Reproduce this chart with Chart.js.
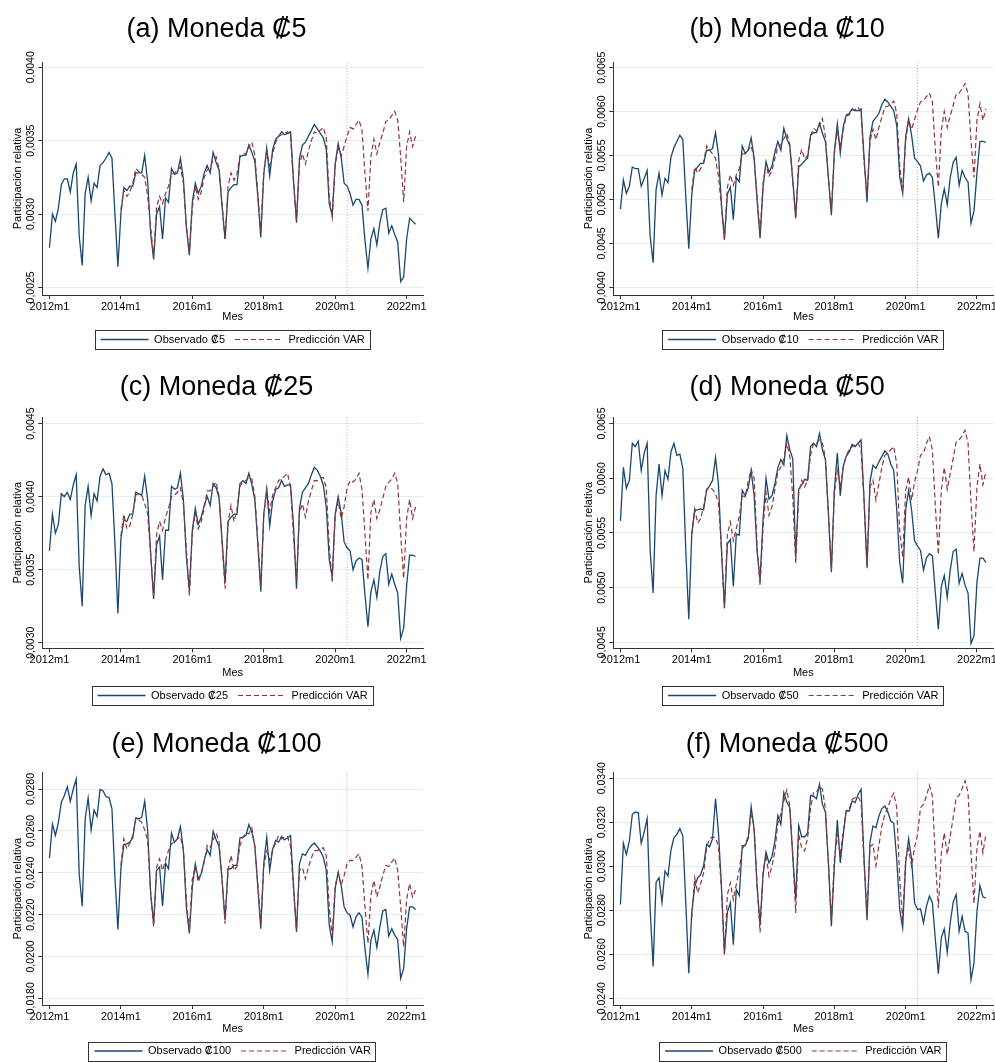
<!DOCTYPE html>
<html>
<head>
<meta charset="utf-8">
<script src="https://cdn.jsdelivr.net/npm/chart.js@4.4.1/dist/chart.umd.min.js"></script>
<style>
html, body { margin: 0; padding: 0; background: #fff; }
body { width: 995px; height: 1062px; position: relative; overflow: hidden; }
canvas { position: absolute; }
</style>
</head>
<body>
<canvas id="cA"></canvas>
<canvas id="cB"></canvas>
<canvas id="cC"></canvas>
<canvas id="cD"></canvas>
<canvas id="cE"></canvas>
<canvas id="cF"></canvas>
<script>
// x axis: month index, 0 = 2012m1
var tickIdx = [0, 24, 48, 72, 96, 120];
var tickLabels = ['2012m1', '2014m1', '2016m1', '2018m1', '2020m1', '2022m1'];
var predStart = 24;   // VAR prediction starts 2014m1
var cutIdx = 100;     // dotted line, 2020m5

// (a) coin 5
var obsA = [0.00277,0.00300,0.00295,0.00304,0.00320,0.00324,0.00324,0.00315,0.00328,0.00334,0.00285,0.00265,
  0.00314,0.00325,0.00309,0.00321,0.00318,0.00333,0.00335,0.00338,0.00342,0.00338,0.00300,0.00264,
  0.00300,0.00318,0.00316,0.00319,0.00319,0.00328,0.00328,0.00328,0.00340,0.00322,0.00287,0.00269,
  0.00300,0.00305,0.00283,0.00311,0.00308,0.00331,0.00327,0.00328,0.00338,0.00324,0.00291,0.00272,
  0.00308,0.00321,0.00314,0.00319,0.00328,0.00333,0.00328,0.00342,0.00335,0.00330,0.00305,0.00283,
  0.00315,0.00318,0.00320,0.00320,0.00339,0.00340,0.00340,0.00347,0.00342,0.00336,0.00312,0.00284,
  0.00327,0.00345,0.00326,0.00344,0.00351,0.00353,0.00356,0.00354,0.00355,0.00356,0.00323,0.00294,
  0.00338,0.00347,0.00349,0.00353,0.00357,0.00361,0.00358,0.00355,0.00352,0.00344,0.00307,0.00299,
  0.00334,0.00348,0.00339,0.00321,0.00319,0.00314,0.00306,0.00310,0.00310,0.00306,0.00282,0.00263,
  0.00283,0.00290,0.00279,0.00294,0.00303,0.00304,0.00287,0.00292,0.00286,0.00281,0.00254,0.00257,
  0.00283,0.00297,0.00295,0.00293];
var predA = [0.00303,0.00316,0.00312,0.00315,0.00321,0.00331,0.00329,0.00327,0.00325,0.00312,0.00291,0.00271,
  0.00305,0.00312,0.00307,0.00314,0.00319,0.00327,0.00328,0.00330,0.00332,0.00321,0.00292,0.00273,
  0.00304,0.00319,0.00310,0.00315,0.00325,0.00330,0.00332,0.00337,0.00339,0.00331,0.00307,0.00282,
  0.00319,0.00328,0.00323,0.00327,0.00340,0.00341,0.00341,0.00346,0.00349,0.00340,0.00314,0.00288,
  0.00328,0.00343,0.00333,0.00341,0.00349,0.00353,0.00354,0.00355,0.00356,0.00353,0.00321,0.00296,
  0.00334,0.00341,0.00334,0.00343,0.00350,0.00356,0.00355,0.00357,0.00359,0.00352,0.00312,0.00298,
  0.00333,0.00346,0.00339,0.00346,0.00353,0.00359,0.00358,0.00361,0.00364,0.00357,0.00328,0.00302,
  0.00339,0.00351,0.00341,0.00349,0.00355,0.00363,0.00364,0.00367,0.00370,0.00364,0.00339,0.00308,
  0.00346,0.00356,0.00346,0.00353];
var yTicksA = [0.0025, 0.0030, 0.0035, 0.0040];

// (b) coin 10
var obsB = [0.00489,0.00522,0.00507,0.00515,0.00537,0.00535,0.00535,0.00515,0.00524,0.00533,0.00458,0.00428,
  0.00511,0.00530,0.00505,0.00524,0.00519,0.00548,0.00559,0.00566,0.00573,0.00568,0.00503,0.00444,
  0.00505,0.00533,0.00537,0.00541,0.00541,0.00556,0.00556,0.00558,0.00576,0.00551,0.00495,0.00455,
  0.00506,0.00514,0.00477,0.00525,0.00520,0.00561,0.00552,0.00556,0.00570,0.00547,0.00499,0.00456,
  0.00514,0.00543,0.00531,0.00538,0.00554,0.00566,0.00556,0.00581,0.00569,0.00561,0.00522,0.00480,
  0.00537,0.00540,0.00544,0.00547,0.00573,0.00576,0.00576,0.00587,0.00575,0.00566,0.00524,0.00482,
  0.00554,0.00586,0.00553,0.00583,0.00596,0.00598,0.00603,0.00601,0.00601,0.00603,0.00548,0.00497,
  0.00571,0.00589,0.00593,0.00598,0.00608,0.00614,0.00611,0.00606,0.00601,0.00584,0.00526,0.00507,
  0.00571,0.00592,0.00573,0.00547,0.00543,0.00538,0.00521,0.00528,0.00530,0.00525,0.00492,0.00456,
  0.00495,0.00512,0.00494,0.00525,0.00542,0.00548,0.00516,0.00533,0.00525,0.00520,0.00473,0.00487,
  0.00530,0.00566,0.00566,0.00565];
var predB = [0.00511,0.00537,0.00530,0.00535,0.00542,0.00561,0.00556,0.00552,0.00547,0.00526,0.00492,0.00454,
  0.00514,0.00528,0.00516,0.00528,0.00535,0.00552,0.00552,0.00556,0.00561,0.00546,0.00503,0.00461,
  0.00518,0.00539,0.00526,0.00533,0.00547,0.00560,0.00562,0.00569,0.00575,0.00563,0.00522,0.00477,
  0.00544,0.00557,0.00546,0.00550,0.00573,0.00581,0.00578,0.00584,0.00592,0.00571,0.00526,0.00486,
  0.00552,0.00578,0.00560,0.00579,0.00595,0.00596,0.00602,0.00602,0.00605,0.00598,0.00543,0.00505,
  0.00566,0.00580,0.00568,0.00582,0.00594,0.00605,0.00606,0.00609,0.00612,0.00598,0.00539,0.00509,
  0.00567,0.00590,0.00580,0.00591,0.00602,0.00611,0.00613,0.00617,0.00621,0.00611,0.00556,0.00514,
  0.00579,0.00600,0.00582,0.00595,0.00607,0.00620,0.00621,0.00626,0.00632,0.00620,0.00567,0.00525,
  0.00590,0.00609,0.00590,0.00603];
var yTicksB = [0.0040, 0.0045, 0.0050, 0.0055, 0.0060, 0.0065];

// (c) coin 25
var obsC = [0.00363,0.00388,0.00375,0.00381,0.00402,0.00400,0.00403,0.00398,0.00408,0.00415,0.00352,0.00325,
  0.00394,0.00407,0.00387,0.00402,0.00397,0.00414,0.00419,0.00415,0.00416,0.00409,0.00368,0.00320,
  0.00371,0.00384,0.00383,0.00388,0.00388,0.00403,0.00402,0.00401,0.00414,0.00398,0.00361,0.00330,
  0.00367,0.00373,0.00343,0.00377,0.00377,0.00407,0.00405,0.00406,0.00416,0.00398,0.00359,0.00336,
  0.00377,0.00392,0.00381,0.00386,0.00394,0.00400,0.00394,0.00409,0.00406,0.00399,0.00370,0.00341,
  0.00383,0.00386,0.00388,0.00388,0.00409,0.00411,0.00409,0.00416,0.00408,0.00398,0.00368,0.00335,
  0.00388,0.00405,0.00380,0.00397,0.00405,0.00406,0.00411,0.00407,0.00408,0.00408,0.00380,0.00337,
  0.00392,0.00403,0.00406,0.00409,0.00415,0.00420,0.00418,0.00414,0.00408,0.00393,0.00357,0.00345,
  0.00388,0.00400,0.00389,0.00369,0.00365,0.00363,0.00350,0.00356,0.00358,0.00357,0.00333,0.00311,
  0.00335,0.00343,0.00331,0.00349,0.00359,0.00361,0.00340,0.00347,0.00340,0.00334,0.00303,0.00310,
  0.00339,0.00360,0.00360,0.00359];
var predC = [0.00373,0.00388,0.00378,0.00380,0.00388,0.00401,0.00402,0.00401,0.00395,0.00388,0.00361,0.00332,
  0.00374,0.00383,0.00377,0.00386,0.00392,0.00400,0.00401,0.00403,0.00406,0.00395,0.00364,0.00332,
  0.00375,0.00389,0.00378,0.00383,0.00392,0.00404,0.00404,0.00407,0.00410,0.00400,0.00368,0.00337,
  0.00382,0.00394,0.00383,0.00391,0.00407,0.00410,0.00411,0.00413,0.00412,0.00400,0.00370,0.00339,
  0.00387,0.00405,0.00390,0.00401,0.00406,0.00411,0.00412,0.00414,0.00416,0.00406,0.00373,0.00343,
  0.00389,0.00395,0.00386,0.00397,0.00404,0.00411,0.00411,0.00413,0.00413,0.00406,0.00366,0.00342,
  0.00388,0.00397,0.00385,0.00393,0.00406,0.00411,0.00410,0.00412,0.00416,0.00405,0.00375,0.00343,
  0.00389,0.00398,0.00385,0.00391,0.00399,0.00407,0.00410,0.00412,0.00416,0.00409,0.00374,0.00344,
  0.00385,0.00398,0.00385,0.00393];
var yTicksC = [0.0030, 0.0035, 0.0040, 0.0045];

// (d) coin 50
var obsD = [0.00561,0.00610,0.00591,0.00598,0.00632,0.00629,0.00634,0.00607,0.00623,0.00632,0.00534,0.00495,
  0.00584,0.00613,0.00584,0.00607,0.00599,0.00624,0.00632,0.00621,0.00622,0.00609,0.00534,0.00471,
  0.00548,0.00571,0.00571,0.00572,0.00571,0.00589,0.00593,0.00598,0.00619,0.00594,0.00534,0.00482,
  0.00540,0.00544,0.00501,0.00549,0.00548,0.00589,0.00584,0.00591,0.00607,0.00584,0.00533,0.00507,
  0.00562,0.00600,0.00581,0.00584,0.00595,0.00610,0.00617,0.00612,0.00639,0.00626,0.00618,0.00528,
  0.00590,0.00594,0.00599,0.00598,0.00629,0.00632,0.00629,0.00641,0.00626,0.00617,0.00568,0.00514,
  0.00589,0.00623,0.00584,0.00611,0.00620,0.00624,0.00631,0.00629,0.00632,0.00635,0.00580,0.00519,
  0.00597,0.00612,0.00609,0.00615,0.00620,0.00625,0.00622,0.00613,0.00607,0.00571,0.00523,0.00504,
  0.00571,0.00589,0.00571,0.00543,0.00538,0.00534,0.00516,0.00527,0.00531,0.00529,0.00495,0.00462,
  0.00501,0.00511,0.00491,0.00516,0.00533,0.00535,0.00504,0.00513,0.00502,0.00495,0.00449,0.00456,
  0.00505,0.00527,0.00527,0.00523];
var predD = [0.00549,0.00572,0.00559,0.00563,0.00574,0.00590,0.00591,0.00590,0.00586,0.00577,0.00537,0.00481,
  0.00549,0.00560,0.00543,0.00554,0.00565,0.00584,0.00583,0.00597,0.00608,0.00600,0.00537,0.00502,
  0.00555,0.00587,0.00566,0.00574,0.00590,0.00606,0.00610,0.00618,0.00632,0.00620,0.00583,0.00522,
  0.00586,0.00598,0.00592,0.00598,0.00621,0.00632,0.00632,0.00635,0.00632,0.00618,0.00568,0.00516,
  0.00586,0.00607,0.00591,0.00610,0.00621,0.00626,0.00629,0.00630,0.00632,0.00626,0.00580,0.00517,
  0.00592,0.00598,0.00580,0.00595,0.00610,0.00621,0.00623,0.00626,0.00629,0.00613,0.00552,0.00528,
  0.00589,0.00601,0.00580,0.00597,0.00607,0.00621,0.00623,0.00632,0.00638,0.00626,0.00574,0.00530,
  0.00589,0.00610,0.00590,0.00604,0.00618,0.00633,0.00635,0.00639,0.00644,0.00632,0.00577,0.00533,
  0.00592,0.00613,0.00594,0.00606];
var yTicksD = [0.0045, 0.0050, 0.0055, 0.0060, 0.0065];

// (e) coin 100
var obsE = [0.02470,0.02633,0.02578,0.02641,0.02737,0.02768,0.02811,0.02741,0.02800,0.02848,0.02395,0.02240,
  0.02657,0.02757,0.02605,0.02700,0.02668,0.02798,0.02792,0.02763,0.02760,0.02705,0.02379,0.02129,
  0.02419,0.02535,0.02538,0.02546,0.02567,0.02662,0.02657,0.02665,0.02741,0.02602,0.02300,0.02157,
  0.02411,0.02427,0.02240,0.02446,0.02419,0.02589,0.02546,0.02562,0.02621,0.02510,0.02237,0.02110,
  0.02332,0.02443,0.02371,0.02395,0.02459,0.02510,0.02483,0.02598,0.02557,0.02525,0.02363,0.02173,
  0.02419,0.02419,0.02435,0.02435,0.02567,0.02570,0.02578,0.02630,0.02594,0.02530,0.02332,0.02133,
  0.02443,0.02570,0.02411,0.02514,0.02554,0.02546,0.02573,0.02557,0.02567,0.02578,0.02340,0.02117,
  0.02443,0.02490,0.02483,0.02510,0.02530,0.02541,0.02525,0.02503,0.02475,0.02411,0.02149,0.02070,
  0.02324,0.02403,0.02340,0.02237,0.02208,0.02197,0.02141,0.02189,0.02208,0.02189,0.02038,0.01916,
  0.02078,0.02125,0.02043,0.02141,0.02217,0.02224,0.02097,0.02133,0.02102,0.02081,0.01895,0.01943,
  0.02133,0.02237,0.02237,0.02224];
var predE = [0.02435,0.02562,0.02514,0.02541,0.02578,0.02657,0.02652,0.02641,0.02605,0.02554,0.02308,0.02141,
  0.02427,0.02467,0.02411,0.02459,0.02506,0.02538,0.02546,0.02562,0.02573,0.02510,0.02268,0.02117,
  0.02371,0.02427,0.02356,0.02395,0.02451,0.02530,0.02519,0.02557,0.02589,0.02546,0.02371,0.02157,
  0.02411,0.02483,0.02411,0.02430,0.02530,0.02570,0.02589,0.02586,0.02614,0.02522,0.02348,0.02157,
  0.02430,0.02503,0.02459,0.02510,0.02541,0.02578,0.02562,0.02573,0.02573,0.02525,0.02316,0.02125,
  0.02411,0.02424,0.02371,0.02427,0.02471,0.02506,0.02506,0.02514,0.02519,0.02483,0.02237,0.02094,
  0.02340,0.02395,0.02340,0.02387,0.02443,0.02459,0.02459,0.02475,0.02490,0.02430,0.02237,0.02062,
  0.02292,0.02363,0.02284,0.02332,0.02387,0.02435,0.02430,0.02451,0.02471,0.02411,0.02237,0.02046,
  0.02271,0.02348,0.02284,0.02316];
var yTicksE = [0.0180, 0.0200, 0.0220, 0.0240, 0.0260, 0.0280];

// (f) coin 500
var obsF = [0.02826,0.03104,0.03053,0.03114,0.03236,0.03247,0.03243,0.03104,0.03155,0.03216,0.02803,0.02544,
  0.02927,0.02947,0.02836,0.02978,0.02955,0.03073,0.03129,0.03145,0.03171,0.03137,0.02833,0.02514,
  0.02787,0.02909,0.02947,0.02962,0.03003,0.03099,0.03088,0.03125,0.03307,0.03152,0.02909,0.02605,
  0.02791,0.02833,0.02643,0.02894,0.02867,0.03094,0.03094,0.03125,0.03271,0.03167,0.02909,0.02734,
  0.02962,0.03064,0.03015,0.03043,0.03114,0.03231,0.03190,0.03335,0.03292,0.03266,0.03046,0.02848,
  0.03186,0.03134,0.03134,0.03149,0.03322,0.03319,0.03307,0.03373,0.03281,0.03246,0.03015,0.02727,
  0.03000,0.03210,0.03015,0.03145,0.03251,0.03251,0.03297,0.03289,0.03327,0.03350,0.03031,0.02754,
  0.03110,0.03183,0.03175,0.03228,0.03262,0.03274,0.03246,0.03205,0.03195,0.03031,0.02803,0.02719,
  0.03015,0.03125,0.03031,0.02833,0.02803,0.02806,0.02742,0.02818,0.02864,0.02833,0.02666,0.02511,
  0.02674,0.02715,0.02608,0.02742,0.02836,0.02871,0.02704,0.02772,0.02704,0.02696,0.02484,0.02560,
  0.02795,0.02912,0.02860,0.02856];
var predF = [0.02765,0.02947,0.02879,0.02921,0.02970,0.03084,0.03125,0.03134,0.03129,0.03091,0.02894,0.02598,
  0.02871,0.02924,0.02848,0.02917,0.02985,0.03079,0.03099,0.03137,0.03231,0.03183,0.02909,0.02699,
  0.02970,0.03053,0.02955,0.03000,0.03069,0.03198,0.03236,0.03297,0.03347,0.03274,0.03053,0.02787,
  0.03145,0.03084,0.03069,0.03129,0.03266,0.03335,0.03335,0.03362,0.03350,0.03259,0.03015,0.02757,
  0.03031,0.03145,0.03053,0.03160,0.03251,0.03259,0.03304,0.03312,0.03316,0.03289,0.03015,0.02784,
  0.03091,0.03099,0.03003,0.03094,0.03183,0.03236,0.03266,0.03307,0.03332,0.03266,0.02939,0.02757,
  0.03031,0.03079,0.03000,0.03084,0.03145,0.03266,0.03281,0.03319,0.03368,0.03319,0.03031,0.02810,
  0.03061,0.03152,0.03053,0.03137,0.03221,0.03312,0.03322,0.03353,0.03388,0.03335,0.03061,0.02830,
  0.03084,0.03160,0.03061,0.03145];
var yTicksF = [0.0240, 0.0260, 0.0280, 0.0300, 0.0320, 0.0340];

var obsColor = '#1a476f';
var predColor = '#90353b';

// page layout (pixels)
var cols = [{ left: 0, width: 440, right: 423 }, { left: 571, width: 430, right: 422.3 }];
var rows = [
  { top: 0,   titleY: 30,  areaTop: 62,    areaBottom: 295,   legendY: 339.5 },
  { top: 356, titleY: 388, areaTop: 417,   areaBottom: 648.3, legendY: 695.5 },
  { top: 713, titleY: 745, areaTop: 772.5, areaBottom: 1005,  legendY: 1051 }
];
var padLeft = 10, areaLeft = 42.3, titleSize = 27;

var panels = [
  { id: 'cA', title: '(a) Moneda ₡5',   coin: '₡5',   obs: obsA, pred: predA, ticks: yTicksA, min: 0.002448, max: 0.004036, row: 0, col: 0 },
  { id: 'cB', title: '(b) Moneda ₡10',  coin: '₡10',  obs: obsB, pred: predB, ticks: yTicksB, min: 0.003913, max: 0.006564, row: 0, col: 1 },
  { id: 'cC', title: '(c) Moneda ₡25',  coin: '₡25',  obs: obsC, pred: predC, ticks: yTicksC, min: 0.002962, max: 0.004545, row: 1, col: 0 },
  { id: 'cD', title: '(d) Moneda ₡50',  coin: '₡50',  obs: obsD, pred: predD, ticks: yTicksD, min: 0.004445, max: 0.006560, row: 1, col: 1 },
  { id: 'cE', title: '(e) Moneda ₡100', coin: '₡100', obs: obsE, pred: predE, ticks: yTicksE, min: 0.01768,  max: 0.02879,  row: 2, col: 0 },
  { id: 'cF', title: '(f) Moneda ₡500', coin: '₡500', obs: obsF, pred: predF, ticks: yTicksF, min: 0.02369,  max: 0.03426,  row: 2, col: 1 }
];

Chart.defaults.font.family = '"Liberation Sans", Arial, sans-serif';
Chart.defaults.color = '#000';

// rotated y labels, dotted cut line and legend frame, Stata style
var stataDecor = {
  id: 'stataDecor',
  beforeDatasetsDraw: function (chart) {
    var ctx = chart.ctx, x = chart.scales.x.getPixelForValue(cutIdx), a = chart.chartArea;
    ctx.save();
    ctx.strokeStyle = 'rgba(240,130,165,0.85)';
    ctx.lineWidth = 1;
    ctx.setLineDash([1, 2]);
    ctx.beginPath();
    ctx.moveTo(x, a.top);
    ctx.lineTo(x, a.bottom);
    ctx.stroke();
    ctx.restore();
  },
  afterDraw: function (chart) {
    var ctx = chart.ctx, s = chart.scales.y;
    ctx.save();
    ctx.font = '10.5px "Liberation Sans", Arial, sans-serif';
    ctx.fillStyle = '#000';
    ctx.textAlign = 'center';
    ctx.textBaseline = 'middle';
    s.ticks.forEach(function (t) {
      ctx.save();
      ctx.translate(s.right - 11.6, s.getPixelForValue(t.value));
      ctx.rotate(-Math.PI / 2);
      ctx.fillText(t.value.toFixed(4).replace('.', ','), 0, 0);
      ctx.restore();
    });
    var hb = chart.legend.legendHitBoxes;
    if (hb && hb.length) {
      var last = hb[hb.length - 1];
      var x0 = hb[0].left - 6, x1 = last.left + last.width + 5;
      var cy = hb[0].top + hb[0].height / 2;
      ctx.strokeStyle = '#333';
      ctx.lineWidth = 1;
      ctx.strokeRect(Math.round(x0) + 0.5, Math.round(cy - 9.5) + 0.5, Math.round(x1 - x0), 19);
    }
    ctx.restore();
  }
};

panels.forEach(function (p) {
  var c = cols[p.col], r = rows[p.row];
  var lh = titleSize * 1.2;
  var tTop = r.titleY - r.top - lh / 2;
  var tBottom = r.areaTop - r.top - tTop - lh;
  var xh = r.legendY - r.areaBottom - 15.5;
  var height = Math.round(r.legendY + 17.5 - r.top);
  var padBottom = height - (r.legendY + 15.5 - r.top);

  var el = document.getElementById(p.id);
  el.width = c.width;
  el.height = height;
  el.style.left = c.left + 'px';
  el.style.top = r.top + 'px';

  new Chart(el.getContext('2d'), {
    type: 'line',
    data: {
      datasets: [{
        label: 'Observado ' + p.coin,
        data: p.obs.map(function (v, i) { return { x: i, y: v }; }),
        borderColor: obsColor,
        borderWidth: 1.3,
        pointRadius: 0,
        tension: 0,
        order: 1
      }, {
        label: 'Predicción VAR',
        data: p.pred.map(function (v, i) { return { x: predStart + i, y: v }; }),
        borderColor: predColor,
        borderWidth: 1.2,
        borderDash: [5, 3],
        pointRadius: 0,
        tension: 0,
        order: 0
      }]
    },
    options: {
      responsive: false,
      animation: false,
      devicePixelRatio: 1,
      layout: { padding: { left: padLeft, right: c.width - c.right, top: 0, bottom: padBottom } },
      plugins: {
        title: {
          display: true,
          text: p.title,
          color: '#000',
          font: { size: titleSize, weight: 'normal' },
          padding: { top: tTop, bottom: tBottom }
        },
        legend: {
          position: 'bottom',
          fullSize: false,
          labels: {
            usePointStyle: true,
            pointStyleWidth: 48,
            padding: 10,
            color: '#000',
            font: { size: 11 },
            generateLabels: function (chart) {
              return chart.data.datasets.map(function (d, i) {
                return {
                  text: d.label, fillStyle: 'rgba(0,0,0,0)', strokeStyle: d.borderColor,
                  lineWidth: d.borderWidth, lineDash: d.borderDash || [], pointStyle: 'line',
                  hidden: false, datasetIndex: i, fontColor: '#000'
                };
              });
            }
          }
        },
        tooltip: { enabled: false }
      },
      scales: {
        x: {
          type: 'linear',
          min: -2.4,
          max: 125.5,
          afterBuildTicks: function (s) { s.ticks = tickIdx.map(function (v) { return { value: v }; }); },
          afterFit: function (s) { s.height = xh; },
          ticks: {
            font: { size: 11 },
            color: '#000',
            padding: 1,
            maxRotation: 0,
            callback: function (v) { return tickLabels[tickIdx.indexOf(v)]; }
          },
          grid: { drawOnChartArea: false, drawTicks: true, tickLength: 4, tickColor: '#333' },
          border: { display: true, color: '#333', width: 1 },
          title: { display: true, text: 'Mes', font: { size: 11 }, color: '#000', padding: { top: 0, bottom: 0 } }
        },
        y: {
          min: p.min,
          max: p.max,
          afterBuildTicks: function (s) { s.ticks = p.ticks.map(function (v) { return { value: v }; }); },
          afterFit: function (s) { s.width = areaLeft - padLeft; },
          ticks: { display: false },
          grid: { color: '#e4edf0', lineWidth: 1, drawTicks: true, tickLength: 4, tickColor: '#333' },
          border: { display: true, color: '#333', width: 1 },
          title: { display: true, text: 'Participación relativa', font: { size: 11 }, color: '#000', padding: { top: 1, bottom: 0 } }
        }
      }
    },
    plugins: [stataDecor]
  });
});
</script>
</body>
</html>
